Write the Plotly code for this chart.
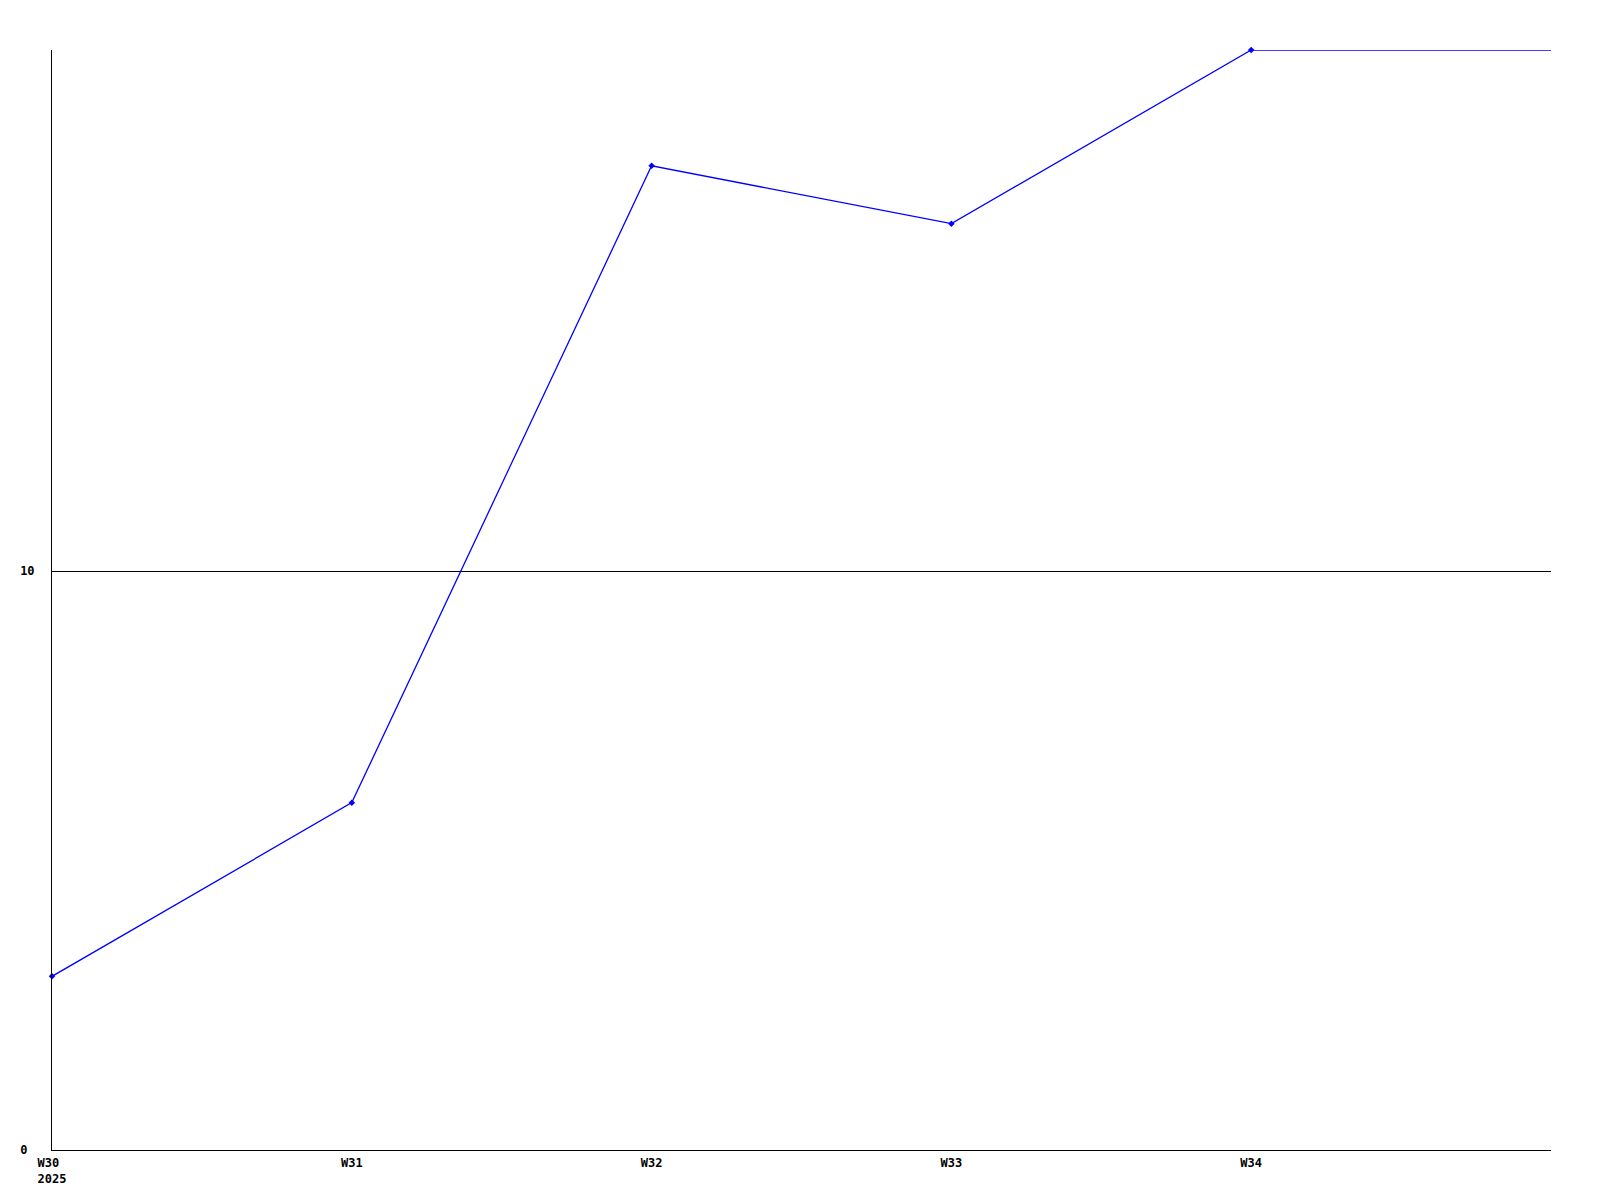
import plotly.graph_objects as go

weeks = ["W30", "W31", "W32", "W33", "W34"]
year_label = "2025"
values = [3, 6, 17, 16, 19]
y_ticks = [0, 10]

x_idx = list(range(len(weeks)))
x_end = len(weeks)  # right edge of plot (W35)


def first_label(w):
    # left-align week and year in monospace by padding
    n = max(len(w), len(year_label))
    return w + "\u00a0" * (n - len(w)) + "<br>" + year_label + "\u00a0" * (n - len(year_label))


tick_text = [first_label(w) if i == 0 else w for i, w in enumerate(weeks)]
# left-aligned y tick labels (monospace padding)
width_y = max(len(str(v)) for v in y_ticks)
y_tick_text = [str(v) + "\u00a0" * (width_y - len(str(v))) for v in y_ticks]

fig = go.Figure()
# extension of the last value to the plot edge
fig.add_trace(go.Scatter(
    x=[x_idx[-1], x_end], y=[values[-1], values[-1]],
    mode="lines", line=dict(color="#0000ff", width=1.3),
    hoverinfo="skip", showlegend=False, cliponaxis=False))
fig.add_trace(go.Scatter(
    x=x_idx, y=values, mode="lines+markers",
    line=dict(color="#0000ff", width=1.3),
    marker=dict(symbol="diamond", size=5, color="#0000ff"),
    showlegend=False, cliponaxis=False))

font = dict(family="DejaVu Sans Mono", size=12, color="black", weight="bold")

fig.update_layout(
    width=1600, height=1200,
    margin=dict(l=42, r=57, t=42, b=58, pad=0),
    plot_bgcolor="white", paper_bgcolor="white",
    showlegend=False,
    xaxis=dict(
        range=[0, x_end], tickmode="array", tickvals=x_idx, ticktext=tick_text,
        showgrid=False, zeroline=False, showline=True, linecolor="black", linewidth=1,
        ticks="", tickfont=font, ticklabelstandoff=2,
    ),
    yaxis=dict(
        range=[0, max(values)], tickmode="array", tickvals=y_ticks, ticktext=y_tick_text,
        showgrid=True, gridcolor="black", gridwidth=1,
        zeroline=False, showline=True, linecolor="black", linewidth=1,
        ticks="", tickfont=font, ticklabelstandoff=14,
    ),
)

fig.write_html("out.html")
